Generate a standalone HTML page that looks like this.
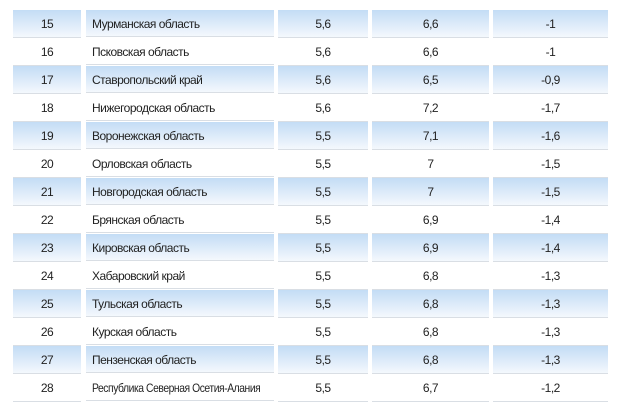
<!DOCTYPE html>
<html><head><meta charset="utf-8"><style>
body{margin:0;width:620px;height:417px;background:#fff;overflow:hidden;font-family:"Liberation Sans",sans-serif;font-size:12px;color:#222}
.row{position:absolute;left:0;width:620px;height:28px}
.c{position:absolute;top:0;height:27px;border-bottom:1px solid #d9dee4;line-height:28px;text-align:center;letter-spacing:-0.5px;white-space:nowrap;overflow:hidden}
.b .c{background:linear-gradient(#c3dcf5,#f4f8fd)}
.c1{left:13px;width:68px}.c2{left:86px;width:188px;text-align:left;padding-left:6px;box-sizing:border-box}
.c3{left:278px;width:90px}.c4{left:372px;width:117px}.c5{left:493px;width:115px}
.sq{display:inline-block;transform:scaleX(0.86);transform-origin:left center}
</style></head><body>
<div class="row b" style="top:10px"><div class="c c1">15</div><div class="c c2">Мурманская область</div><div class="c c3">5,6</div><div class="c c4">6,6</div><div class="c c5">-1</div></div>
<div class="row" style="top:38px"><div class="c c1">16</div><div class="c c2">Псковская область</div><div class="c c3">5,6</div><div class="c c4">6,6</div><div class="c c5">-1</div></div>
<div class="row b" style="top:66px"><div class="c c1">17</div><div class="c c2">Ставропольский край</div><div class="c c3">5,6</div><div class="c c4">6,5</div><div class="c c5">-0,9</div></div>
<div class="row" style="top:94px"><div class="c c1">18</div><div class="c c2">Нижегородская область</div><div class="c c3">5,6</div><div class="c c4">7,2</div><div class="c c5">-1,7</div></div>
<div class="row b" style="top:122px"><div class="c c1">19</div><div class="c c2">Воронежская область</div><div class="c c3">5,5</div><div class="c c4">7,1</div><div class="c c5">-1,6</div></div>
<div class="row" style="top:150px"><div class="c c1">20</div><div class="c c2">Орловская область</div><div class="c c3">5,5</div><div class="c c4">7</div><div class="c c5">-1,5</div></div>
<div class="row b" style="top:178px"><div class="c c1">21</div><div class="c c2">Новгородская область</div><div class="c c3">5,5</div><div class="c c4">7</div><div class="c c5">-1,5</div></div>
<div class="row" style="top:206px"><div class="c c1">22</div><div class="c c2">Брянская область</div><div class="c c3">5,5</div><div class="c c4">6,9</div><div class="c c5">-1,4</div></div>
<div class="row b" style="top:234px"><div class="c c1">23</div><div class="c c2">Кировская область</div><div class="c c3">5,5</div><div class="c c4">6,9</div><div class="c c5">-1,4</div></div>
<div class="row" style="top:262px"><div class="c c1">24</div><div class="c c2">Хабаровский край</div><div class="c c3">5,5</div><div class="c c4">6,8</div><div class="c c5">-1,3</div></div>
<div class="row b" style="top:290px"><div class="c c1">25</div><div class="c c2">Тульская область</div><div class="c c3">5,5</div><div class="c c4">6,8</div><div class="c c5">-1,3</div></div>
<div class="row" style="top:318px"><div class="c c1">26</div><div class="c c2">Курская область</div><div class="c c3">5,5</div><div class="c c4">6,8</div><div class="c c5">-1,3</div></div>
<div class="row b" style="top:346px"><div class="c c1">27</div><div class="c c2">Пензенская область</div><div class="c c3">5,5</div><div class="c c4">6,8</div><div class="c c5">-1,3</div></div>
<div class="row" style="top:374px"><div class="c c1">28</div><div class="c c2"><span class="sq">Республика Северная Осетия-Алания</span></div><div class="c c3">5,5</div><div class="c c4">6,7</div><div class="c c5">-1,2</div></div>
</body></html>
